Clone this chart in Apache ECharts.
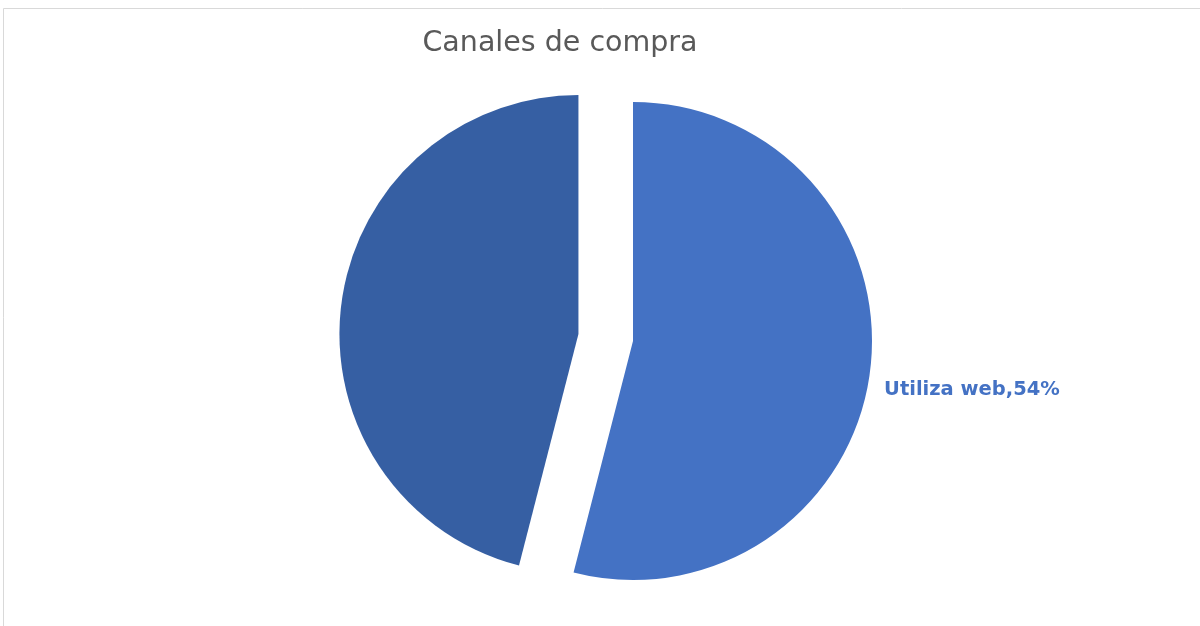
<!DOCTYPE html>
<html>
<head>
<meta charset="utf-8">
<script src="https://cdn.jsdelivr.net/npm/echarts@6/dist/echarts.min.js"></script>
<style>
  html, body { margin: 0; padding: 0; background: #fff; }
  #chart { width: 1200px; height: 626px; }
</style>
</head>
<body>
<div id="chart"></div>
<script>
// Shopping channel shares (percent)
const categories = ['Utiliza web', 'No utiliza web'];
const shares = [54, 46];
const sliceColors = ['#4472C4', '#365FA3'];
const showLabel = [true, false];
const explode = [false, true];

const chart = echarts.init(document.getElementById('chart'), null, { renderer: 'canvas' });

const data = categories.map((name, i) => ({
  name: name,
  value: shares[i],
  selected: explode[i],
  itemStyle: { color: sliceColors[i] },
  label: { show: showLabel[i] }
}));

chart.setOption({
  animation: false,
  backgroundColor: '#ffffff',
  title: {
    text: 'Canales de compra',
    left: 555,
    top: 24,
    textAlign: 'center',
    textStyle: {
      fontFamily: 'DejaVu Sans, sans-serif',
      fontSize: 28.5,
      fontWeight: 'normal',
      color: '#595959'
    }
  },
  graphic: [{
    type: 'rect',
    silent: true,
    z: -10,
    shape: { x: 3.5, y: 8.5, width: 1300, height: 700 },
    style: { fill: 'none', stroke: '#d9d9d9', lineWidth: 1 }
  }],
  series: [{
    type: 'pie',
    center: [633, 341],
    radius: [0, 239],
    startAngle: 90,
    clockwise: true,
    selectedMode: 'multiple',
    selectedOffset: 55,
    data: data,
    label: {
      position: 'outside',
      formatter: '{b},{d}%',
      fontFamily: 'DejaVu Sans, sans-serif',
      fontSize: 19.5,
      fontWeight: 'bold',
      color: '#4472C4'
    },
    labelLine: { show: false, length: 9, length2: 0 },
    labelLayout: { dy: 18 },
    emphasis: { disabled: true }
  }]
});
</script>
</body>
</html>
